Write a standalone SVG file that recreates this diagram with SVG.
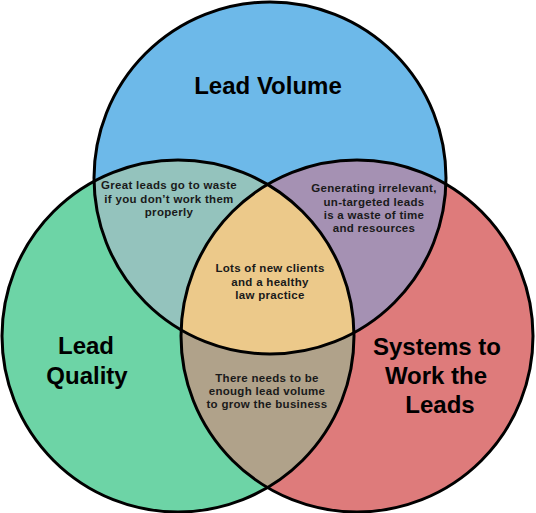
<svg xmlns="http://www.w3.org/2000/svg" xmlns:xlink="http://www.w3.org/1999/xlink" width="536" height="513" viewBox="0 0 536 513">
<style>
.outline{fill:none;stroke:#000;stroke-width:3}
.big{font-family:"Liberation Sans",Arial,sans-serif;font-weight:bold;font-size:24px;fill:#000;text-anchor:middle}
.small{font-family:"Liberation Sans",Arial,sans-serif;font-weight:bold;font-size:11.5px;letter-spacing:0.3px;fill:#1a1a1a;text-anchor:middle}
</style>
<defs>
<circle id="cTop" cx="270" cy="178" r="176"/>
<circle id="cLeft" cx="178" cy="336" r="176"/>
<circle id="cRight" cx="357" cy="336" r="176"/>
<clipPath id="clipTop"><use xlink:href="#cTop"/></clipPath>
<clipPath id="clipLeft"><use xlink:href="#cLeft"/></clipPath>
<clipPath id="clipRight"><use xlink:href="#cRight"/></clipPath>
</defs>
<rect width="536" height="513" fill="#fff"/>
<g id="lead-volume">
<use xlink:href="#cTop" fill="#6DB9E9"/>
</g>
<g id="lead-quality">
<use xlink:href="#cLeft" fill="#6DD4A6"/>
</g>
<g id="systems">
<use xlink:href="#cRight" fill="#DE7B7B"/>
</g>
<g id="overlap-volume-quality">
<use xlink:href="#cLeft" fill="#94C3BD" clip-path="url(#clipTop)"/>
</g>
<g id="overlap-volume-systems">
<use xlink:href="#cRight" fill="#A591B3" clip-path="url(#clipTop)"/>
</g>
<g id="overlap-quality-systems">
<use xlink:href="#cRight" fill="#B0A28A" clip-path="url(#clipLeft)"/>
</g>
<g id="overlap-all" clip-path="url(#clipRight)">
<use xlink:href="#cLeft" fill="#ECC98A" clip-path="url(#clipTop)"/>
</g>
<g id="outlines">
<use xlink:href="#cTop" class="outline"/>
<use xlink:href="#cLeft" class="outline"/>
<use xlink:href="#cRight" class="outline"/>
</g>
<g id="labels">
<text class="big" x="268" y="94">Lead Volume</text>
<text class="big" x="86" y="354">Lead</text>
<text class="big" x="87" y="384">Quality</text>
<text class="big" x="437" y="355">Systems to</text>
<text class="big" x="436" y="384">Work the</text>
<text class="big" x="440" y="413">Leads</text>
<text class="small" x="169" y="189">Great leads go to waste</text>
<text class="small" x="169" y="203">if you don’t work them</text>
<text class="small" x="169" y="216">properly</text>
<text class="small" x="374" y="192">Generating irrelevant,</text>
<text class="small" x="374" y="206">un-targeted leads</text>
<text class="small" x="374" y="219">is a waste of time</text>
<text class="small" x="374" y="232">and resources</text>
<text class="small" x="270" y="272">Lots of new clients</text>
<text class="small" x="270" y="286">and a healthy</text>
<text class="small" x="270" y="299">law practice</text>
<text class="small" x="267" y="382">There needs to be</text>
<text class="small" x="267" y="395">enough lead volume</text>
<text class="small" x="267" y="408">to grow the business</text>
</g>
</svg>
